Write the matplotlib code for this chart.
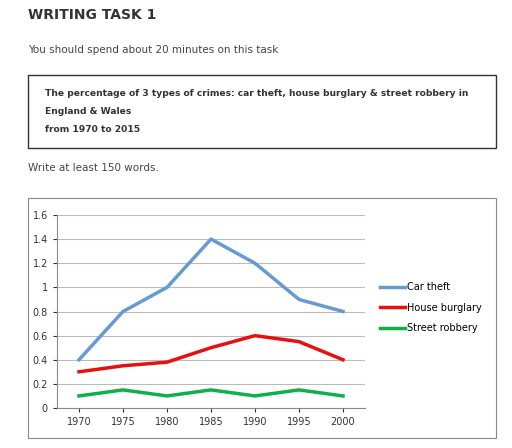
import numpy as np
import matplotlib.pyplot as plt
from matplotlib.patches import Rectangle

years = ['1970', '1975', '1980', '1985', '1990', '1995', '2000']
car_theft = [0.4, 0.8, 1.0, 1.4, 1.2, 0.9, 0.8]
house_burglary = [0.3, 0.35, 0.38, 0.5, 0.6, 0.55, 0.4]
street_robbery = [0.1, 0.15, 0.1, 0.15, 0.1, 0.15, 0.1]

W, H = 512, 448
fig = plt.figure(figsize=(W/100, H/100), dpi=100)

def fx(x): return x / W
def fy(y): return 1 - y / H

fig.text(fx(28), fy(15), 'WRITING TASK 1', fontsize=10, fontweight='bold', color='#333333', va='center')
fig.text(fx(28), fy(50), 'You should spend about 20 minutes on this task', fontsize=7.5, color='#444444', va='center')
fig.patches.append(Rectangle((fx(28), fy(148)), fx(468), 73/H, transform=fig.transFigure,
                             fill=False, edgecolor='#333333', lw=1))
fig.text(fx(45), fy(94), 'The percentage of 3 types of crimes: car theft, house burglary & street robbery in',
         fontsize=6.6, fontweight='bold', color='#333333', va='center')
fig.text(fx(45), fy(112), 'England & Wales', fontsize=6.6, fontweight='bold', color='#333333', va='center')
fig.text(fx(45), fy(130), 'from 1970 to 2015', fontsize=6.6, fontweight='bold', color='#333333', va='center')
fig.text(fx(28), fy(168), 'Write at least 150 words.', fontsize=7.5, color='#444444', va='center')
fig.patches.append(Rectangle((fx(28), fy(438)), fx(468), 240/H, transform=fig.transFigure,
                             fill=False, edgecolor='#888888', lw=0.8))

ax = fig.add_axes([fx(57), fy(408), 308/W, 193/H])
x = np.arange(len(years))
ax.plot(x, car_theft, color='#659bd1', lw=2.5, label='Car theft')
ax.plot(x, house_burglary, color='#e8100f', lw=2.5, label='House burglary')
ax.plot(x, street_robbery, color='#0fb04b', lw=2.5, label='Street robbery')
ax.set_xlim(-0.5, 6.5)
ax.set_ylim(0, 1.6)
ax.set_yticks(np.arange(0, 1.61, 0.2))
ax.set_yticklabels(['0', '0.2', '0.4', '0.6', '0.8', '1', '1.2', '1.4', '1.6'])
ax.set_xticks(x)
ax.set_xticklabels(years)
ax.grid(axis='y', color='#bbbbbb', lw=0.8)
ax.set_axisbelow(True)
for s in ['top', 'right']:
    ax.spines[s].set_visible(False)
ax.spines['left'].set_color('#888888')
ax.spines['bottom'].set_color('#888888')
ax.tick_params(labelsize=7, length=3, colors='#333333')
ax.legend(loc='center left', bbox_to_anchor=(1.02, 0.52), frameon=False, fontsize=7,
          handlelength=2.6, handletextpad=0.2, labelspacing=1.1)

fig.savefig('out.png', dpi=100)
